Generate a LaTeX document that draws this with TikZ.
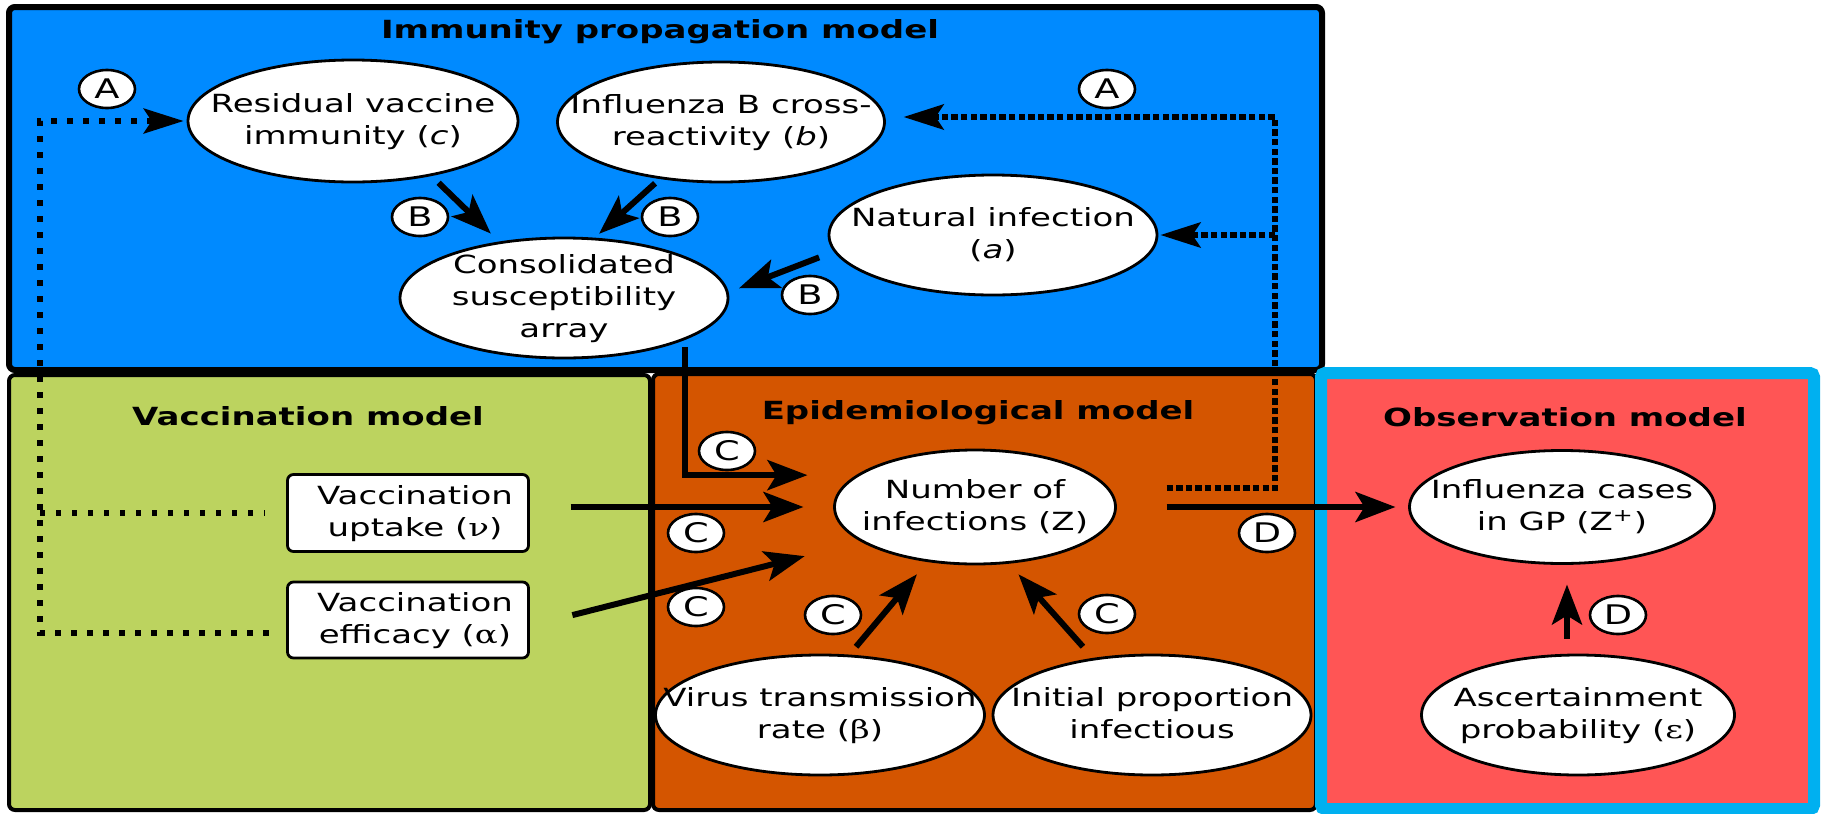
\documentclass[tikz,border=0pt]{standalone}
\usepackage{fontspec}
\setmainfont{DejaVu Sans}[FakeStretch=1.36]
\newfontfamily\grk{DejaVu Serif}[FakeStretch=1.36]
\usetikzlibrary{shapes.geometric,arrows.meta,calc}
\definecolor{immblue}{RGB}{0,138,255}
\definecolor{vacgreen}{RGB}{188,211,95}
\definecolor{epiorange}{RGB}{212,85,0}
\definecolor{obsred}{RGB}{255,85,85}
\definecolor{obscyan}{RGB}{0,176,240}
\newcommand{\zb}[2][0pt]{\raisebox{-3.4pt}[0pt][0pt]{\makebox[0pt]{\hspace*{#1}\begin{tabular}{@{}c@{}}#2\end{tabular}}}}
\begin{document}
\begin{tikzpicture}[x=0.5pt,y=-0.5pt, font=\fontsize{12.5}{16}\selectfont,
 ell/.style 2 args={ellipse, draw=black, fill=white, line width=1.4pt, inner sep=0pt, minimum width=#1, minimum height=#2},
 rbox/.style 2 args={rectangle, rounded corners=3pt, draw=black, fill=white, line width=1.4pt, inner sep=0pt, minimum width=#1, minimum height=#2},
 lab/.style={ellipse, draw=black, fill=white, line width=1.3pt, inner sep=0pt, minimum width=28pt, minimum height=19pt, font=\fontsize{13.5}{16}\selectfont},
 ttl/.style={font=\fontsize{12.5}{16}\selectfont\bfseries, inner sep=0pt},
 arr/.style={line width=3pt, -{Stealth[length=20pt,width=15pt,inset=4.5pt]}},
 dotL/.style={line width=2.6pt, dash pattern=on 2.6pt off 5.4pt},
 dotR/.style={line width=3.2pt, dash pattern=on 3.2pt off 1.6pt},
 dotarr/.style={-{Stealth[length=20pt,width=12.5pt,inset=4pt]}},
 panel/.style={draw=black, rounded corners=3pt}
]
\useasboundingbox (0,0) rectangle (1822,814);
\fill[white] (0,0) rectangle (1822,814);

% panels
\node[panel, fill=immblue, line width=3pt, minimum width=656.5pt, minimum height=181.5pt] (immbox) at (665.5,188.5) {};
\node[panel, fill=vacgreen, line width=2pt, minimum width=320.5pt, minimum height=217.5pt] (vacbox) at (329.5,592.5) {};
\node[panel, fill=epiorange, line width=2pt, minimum width=331.5pt, minimum height=218pt] (epibox) at (984.5,592) {};
\node[draw=obscyan, fill=obsred, line width=6pt, rounded corners=2pt, minimum width=246.5pt, minimum height=218pt] (obsbox) at (1567.5,591) {};

% titles
\node[ttl] (timm) at (660,32) {Immunity propagation model};
\node[ttl] (tvac) at (308,416) {Vaccination model};
\node[ttl] (tepi) at (978,413) {Epidemiological model};
\node[ttl] (tobs) at (1565,417) {Observation model};

% nodes
\node[ell={165pt}{61pt}] (res) at (353,121) {\zb{Residual vaccine\\immunity (\textit{c})}};
\node[ell={163.5pt}{60pt}] (infb) at (721,122) {\zb{Influenza B cross-\\reactivity (\textit{b})}};
\node[ell={164pt}{60pt}] (nat) at (993,235) {\zb{Natural infection\\(\textit{a})}};
\node[ell={164pt}{60pt}] (cons) at (564,298) {\zb{Consolidated\\susceptibility\\array}};
\node[ell={140.5pt}{57pt}] (num) at (975,507) {\zb{Number of\\infections (Z)}};
\node[ell={164.5pt}{60pt}] (vir) at (820,715) {\zb{Virus transmission\\rate ({\grk β})}};
\node[ell={159pt}{60pt}] (ini) at (1152,715) {\zb{Initial proportion\\infectious}};
\node[ell={152.5pt}{56.5pt}] (cas) at (1562,507) {\zb{Influenza cases\\in GP (Z\textsuperscript{+})}};
\node[ell={156.5pt}{60pt}] (asc) at (1578,715) {\zb{Ascertainment\\probability ({\grk ε})}};
\node[rbox={120.5pt}{38.5pt}] (up) at (408,513) {\zb[7pt]{Vaccination\\uptake ({\grk ν})}};
\node[rbox={120.5pt}{38pt}] (eff) at (408,620) {\zb[7pt]{Vaccination\\efficacy ({\grk α})}};

% labels
\node[lab] (la1) at (107,89) {A};
\node[lab] (la2) at (1107,89) {A};
\node[lab] (lb1) at (420,217) {B};
\node[lab] (lb2) at (670,217) {B};
\node[lab] (lb3) at (810,295) {B};
\node[lab] (lc1) at (727,451) {C};
\node[lab] (lc2) at (696,533) {C};
\node[lab] (lc3) at (696,607) {C};
\node[lab] (lc4) at (833,615) {C};
\node[lab] (lc5) at (1107,614) {C};
\node[lab] (ld1) at (1267,533) {D};
\node[lab] (ld2) at (1618,615) {D};

% dotted connectors
\coordinate (lc) at (40,121);
\coordinate (rc) at (1275,117);
\draw[dotL, dotarr, shorten <=8.75pt, shorten >=1.5pt] ([yshift=-6.5pt]eff.west) -| (lc) -- (res.west);
\draw[dotL, shorten >=10.8pt] (lc |- up.west) -- (up.west);
\draw[dotR, dotarr, shorten <=24.8pt, shorten >=8.8pt] ([yshift=9.5pt]num.east) -| (rc) -- (rc -| infb.east);
\draw[dotR, dotarr, shorten >=1pt] (rc |- nat.east) -- (nat.east);

% solid connectors
\draw[arr, shorten <=4.9pt, shorten >=5.7pt] (res.-35.9) -- (cons.139.6);
\draw[arr, shorten <=3.2pt, shorten >=2.9pt] (infb.-137.3) -- (cons.63.3);
\draw[arr, shorten <=7.9pt, shorten >=5.5pt] (nat.-174.9) -- (cons.2.5);
\draw[arr, shorten <=3.5pt, shorten >=24.3pt] (cons.-19.5) |- (num.165.9);
\draw[arr, shorten <=20.3pt, shorten >=14.8pt] (up.east |- num.west) -- (num.west);
\draw[arr, shorten <=21.9pt, shorten >=29.1pt] ([yshift=-2.95pt]eff.east) -- (num.-163.55);
\draw[arr, shorten <=5.1pt, shorten >=8pt] (vir.64.3) -- (num.-131);
\draw[arr, shorten <=7.5pt, shorten >=7.1pt] (ini.136.1) -- (num.-59.6);
\draw[arr, shorten <=24.8pt, shorten >=6.3pt] (num.east) -- (num.east -| cas.west);
\draw[arr, shorten <=7.5pt, shorten >=9.8pt] ([xshift=-5.5pt]asc.north) -- ([xshift=-5.5pt]asc.north |- cas.south);
\end{tikzpicture}
\end{document}
